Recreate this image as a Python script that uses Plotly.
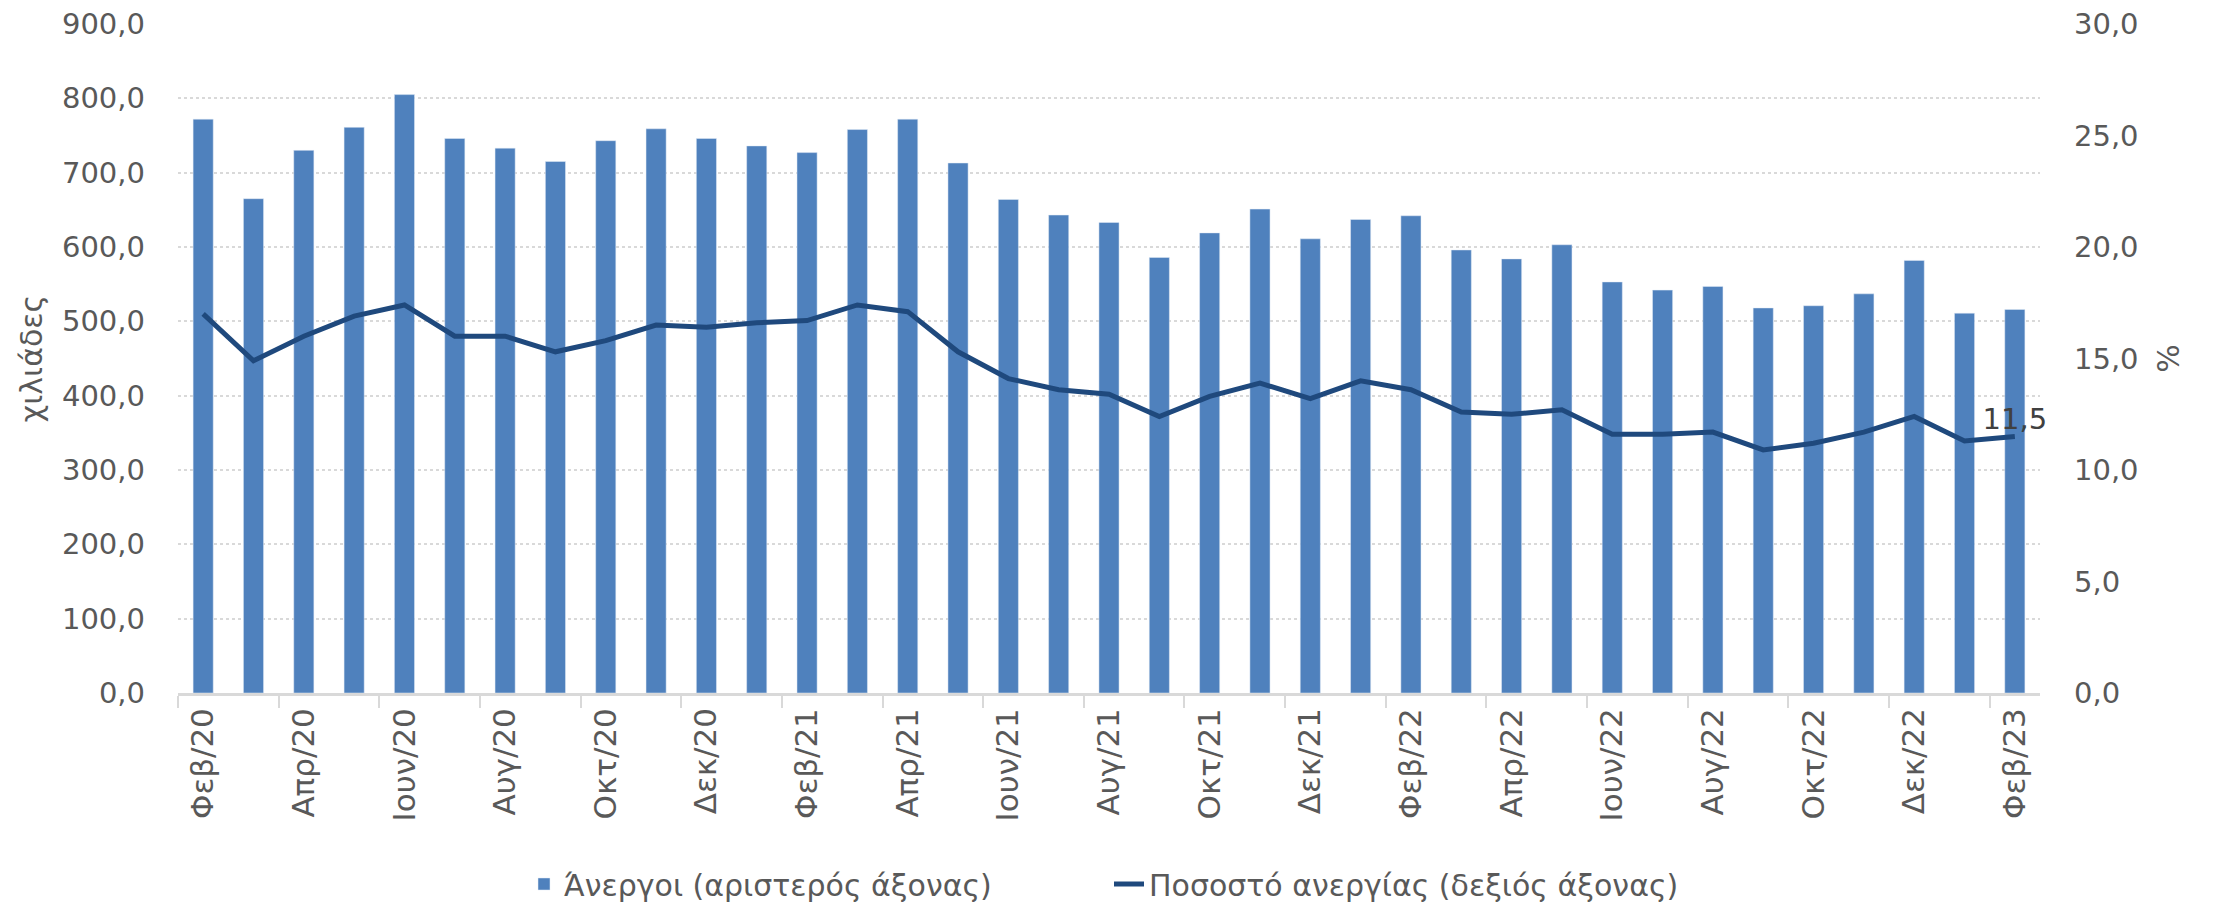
from plotly import graph_objects as go

minas = ['Φεβ', 'Μαρ', 'Απρ', 'Μαϊ', 'Ιουν', 'Ιουλ', 'Αυγ', 'Σεπ', 'Οκτ', 'Νοε', 'Δεκ', 'Ιαν']
mines = []
etos = 20
for i in range(37):
    m = minas[i % 12]
    if m == 'Ιαν':
        etos += 1
    mines.append(f'{m}/{etos}')

anergoi = [772, 665, 730, 761, 805, 746, 733, 715, 743, 759, 746, 736, 727, 758, 772, 713,
           664, 643, 633, 586, 619, 651, 611, 637, 642, 596, 584, 603, 553, 542, 547, 518,
           521, 537, 582, 511, 516]
pososto = [17.0, 14.9, 16.0, 16.9, 17.4, 16.0, 16.0, 15.3, 15.8, 16.5, 16.4, 16.6, 16.7,
           17.4, 17.1, 15.3, 14.1, 13.6, 13.4, 12.4, 13.3, 13.9, 13.2, 14.0, 13.6, 12.6,
           12.5, 12.7, 11.6, 11.6, 11.7, 10.9, 11.2, 11.7, 12.4, 11.3, 11.5]

grammatoseira = 'DejaVu Sans'
xroma_keimenou = '#595959'

etiketes = [''] * (len(pososto) - 1) + [f'{pososto[-1]:.1f}'.replace('.', ',')]

fig = go.Figure()
fig.add_trace(go.Bar(x=mines, y=anergoi, name='Άνεργοι (αριστερός άξονας)',
                     marker_color='#4F81BD'))
fig.add_trace(go.Scatter(x=mines, y=pososto, mode='lines+text', yaxis='y2',
                         name='Ποσοστό ανεργίας (δεξιός άξονας)',
                         line=dict(color='#1F497D', width=5), cliponaxis=False,
                         text=etiketes, textposition='top center',
                         textfont=dict(size=29, color='#404040')))

# η σελίδα έχει 8px περιθώριο, οπότε τα margins είναι μετατοπισμένα
fig.update_layout(
    width=2213, height=903,
    margin=dict(l=170, r=181, t=16, b=218, autoexpand=False),
    plot_bgcolor='white', paper_bgcolor='white',
    font=dict(family=grammatoseira, size=29, color=xroma_keimenou),
    separators=',.',
    bargap=0.6,
    showlegend=True,
    legend=dict(orientation='h', x=0.5, xanchor='center', y=-0.2855, yanchor='middle',
                entrywidth=540, entrywidthmode='pixels',
                font=dict(size=30, color=xroma_keimenou)),
    xaxis=dict(type='category', range=[-0.5, len(mines) - 0.5], dtick=2, tickangle=-90,
               tickson='boundaries',
               ticks='outside', ticklen=12, tickcolor='#D9D9D9', tickwidth=2,
               showline=True, linecolor='#D9D9D9', linewidth=2.5,
               showgrid=False, automargin=False, tickfont=dict(size=31)),
    yaxis=dict(range=[0, 900], dtick=100, tickformat='.1f', automargin=False,
               ticklabeloverflow='allow',
               title=dict(text='χιλιάδες', standoff=10, font=dict(size=30)),
               showgrid=True, gridcolor='#D9D9D9', griddash='dot', gridwidth=1.5,
               zeroline=False, ticks='', ticklabelstandoff=32),
    yaxis2=dict(range=[0, 30], dtick=5, tickformat='.1f', overlaying='y', side='right',
                automargin=False, ticklabeloverflow='allow',
                title=dict(text='%', standoff=20, font=dict(size=30)),
                showgrid=False, zeroline=False, ticks='', ticklabelstandoff=33),
)

fig.write_html('out.html')
